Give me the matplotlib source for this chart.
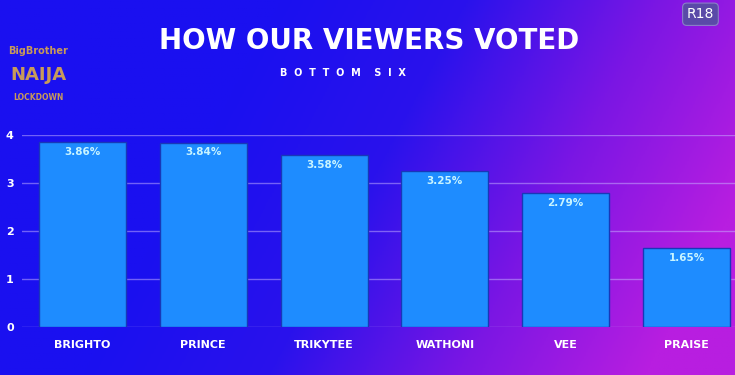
import numpy as np
import matplotlib
matplotlib.use("Agg")
import matplotlib.pyplot as plt
from matplotlib.colors import LinearSegmentedColormap

categories = ["BRIGHTO", "PRINCE", "TRIKYTEE", "WATHONI", "VEE", "PRAISE"]
values = [3.86, 3.84, 3.58, 3.25, 2.79, 1.65]
value_labels = ["3.86%", "3.84%", "3.58%", "3.25%", "2.79%", "1.65%"]
yticks = [0, 1, 2, 3, 4]

fig = plt.figure(figsize=(7.35, 3.75), dpi=100)

# background gradient
bg = fig.add_axes([0, 0, 1, 1])
bg.set_axis_off()
xs = np.linspace(0, 1, 400)
ys = np.linspace(0, 1, 200)
X, Y = np.meshgrid(xs, ys)
T = np.clip((X - 0.38) * 1.3 + Y * 0.35, 0, 1)
cmap = LinearSegmentedColormap.from_list("bgc", ["#1a10f0", "#2a12ec", "#7a16e4", "#b81ee0"])
bg.imshow(T, cmap=cmap, aspect="auto", extent=[0, 1, 0, 1], origin="upper", vmin=0, vmax=1)
bg.set_xlim(0, 1); bg.set_ylim(0, 1)

ax = fig.add_axes([22/735, 48/375, 725/735, 192/375])
ax.patch.set_alpha(0)
x = np.arange(len(categories))
ax.bar(x, values, width=0.72, color="#1e8cff", edgecolor="#1838b8", linewidth=1.0, zorder=3)
for xi, v, lab in zip(x, values, value_labels):
    ax.text(xi, v - 0.1, lab, ha="center", va="top", color="#c8f4ff", fontsize=7.5,
            fontweight="bold", zorder=4)
ax.set_xlim(-0.5, 5.5)
ax.set_ylim(0, 4)
ax.set_yticks(yticks)
ax.set_yticklabels([str(t) for t in yticks], color="white", fontsize=8, fontweight="bold")
ax.set_xticks(x)
ax.set_xticklabels(categories, color="white", fontsize=8, fontweight="bold")
ax.tick_params(axis="both", length=0)
ax.tick_params(axis="y", pad=6)
ax.tick_params(axis="x", pad=9)
ax.grid(axis="y", color="#c8b4ff", alpha=0.5, linewidth=1.0, zorder=1)
for s in ax.spines.values():
    s.set_visible(False)

fig.text(0.502, 0.89, "HOW OUR VIEWERS VOTED", ha="center", va="center", color="white",
         fontsize=20, fontweight="bold", family="DejaVu Sans")
fig.text(0.467, 0.805, "B  O  T  T  O  M    S  I  X", ha="center", va="center", color="white",
         fontsize=7, fontweight="bold")

# logo
fig.text(0.052, 0.865, "BigBrother", ha="center", va="center", color="#c89a5a", fontsize=7, fontweight="bold")
fig.text(0.052, 0.80, "NAIJA", ha="center", va="center", color="#c89a5a", fontsize=13, fontweight="bold")
fig.text(0.052, 0.74, "LOCKDOWN", ha="center", va="center", color="#c89a5a", fontsize=5.5, fontweight="bold")

# R18 badge
fig.text(0.953, 0.962, "R18", ha="center", va="center", color="white", fontsize=10,
         bbox=dict(boxstyle="round,pad=0.3", fc="#5a4aa8", ec="#8a80c8", lw=0.8))

fig.savefig("out.png", dpi=100)
